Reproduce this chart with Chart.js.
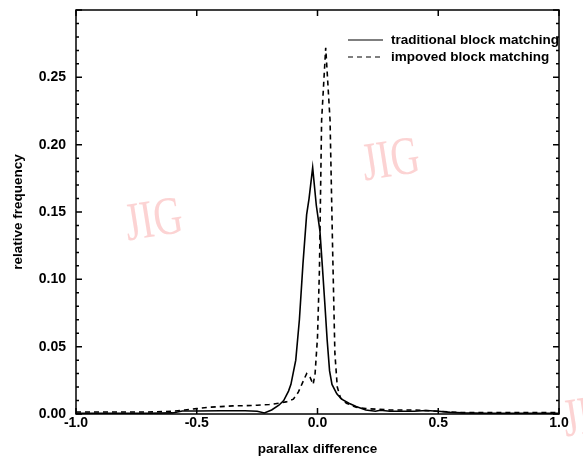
<!DOCTYPE html>
<html>
<head>
<meta charset="utf-8">
<script src="https://cdn.jsdelivr.net/npm/chart.js@4/dist/chart.umd.min.js"></script>
<style>
  body { margin: 0; background: #fff; }
  #wrap { width: 583px; height: 457px; }
</style>
</head>
<body>
<div id="wrap"><canvas id="histChart" width="583" height="457"></canvas></div>
<script>
// parallax difference histogram, two matching methods
const xTickValues = [-1.0, -0.5, 0.0, 0.5, 1.0];
const yTickValues = [0.00, 0.05, 0.10, 0.15, 0.20, 0.25];

const tradX = [-1.0, -0.9, -0.8, -0.7, -0.6, -0.56, -0.5, -0.4, -0.3, -0.25, -0.22, -0.19, -0.16, -0.14,
  -0.12, -0.11, -0.09, -0.075, -0.06, -0.045, -0.035, -0.02, -0.005, 0.01, 0.02, 0.03, 0.04, 0.05, 0.06,
  0.08, 0.10, 0.13, 0.16, 0.20, 0.24, 0.26, 0.30, 0.40, 0.45, 0.50, 0.55, 0.60, 0.70, 0.80, 0.90, 1.0];
const tradY = [0.0006, 0.0006, 0.0006, 0.0006, 0.0008, 0.0022, 0.0022, 0.0024, 0.0024, 0.002, 0.0008, 0.003, 0.0065, 0.010,
  0.017, 0.022, 0.040, 0.070, 0.112, 0.148, 0.160, 0.183, 0.155, 0.136, 0.110, 0.083, 0.055, 0.032, 0.022,
  0.015, 0.011, 0.008, 0.0055, 0.003, 0.002, 0.0028, 0.002, 0.002, 0.0026, 0.002, 0.0012, 0.0008, 0.0006, 0.0005, 0.0005, 0.0005];

const impX = [-1.0, -0.9, -0.8, -0.7, -0.6, -0.55, -0.5, -0.45, -0.4, -0.35, -0.3, -0.25, -0.2, -0.16, -0.13,
  -0.1, -0.08, -0.06, -0.045, -0.03, -0.018, -0.01, 0.0, 0.008, 0.017, 0.034, 0.052, 0.063, 0.072, 0.082,
  0.095, 0.12, 0.16, 0.20, 0.30, 0.40, 0.50, 0.60, 0.80, 1.0];
const impY = [0.0015, 0.0015, 0.0015, 0.0015, 0.002, 0.003, 0.004, 0.005, 0.0055, 0.006, 0.0062, 0.0065, 0.007, 0.008, 0.009,
  0.011, 0.016, 0.024, 0.030, 0.027, 0.022, 0.030, 0.057, 0.107, 0.218, 0.272, 0.218, 0.119, 0.045, 0.020,
  0.012, 0.008, 0.005, 0.004, 0.003, 0.003, 0.002, 0.001, 0.001, 0.001];

const seriesNames = ["traditional block matching", "impoved block matching"];

const tickFont = { family: "'Liberation Sans', Arial, sans-serif", size: 14, weight: "bold" };
const titleFont = { family: "'Liberation Sans', Arial, sans-serif", size: 13.5, weight: "bold" };

// frame with inward ticks on all four sides
const framePlugin = {
  id: "frame",
  afterDatasetsDraw(chart) {
    const { ctx, chartArea: { left, right, top, bottom }, scales: { x, y } } = chart;
    ctx.save();
    ctx.strokeStyle = "#000";
    ctx.lineWidth = 1.5;
    ctx.strokeRect(left, top, right - left, bottom - top);
    ctx.beginPath();
    for (let k = 0; k <= 30; k++) {
      const py = y.getPixelForValue(k / 100);
      const len = k % 5 === 0 ? 6 : 3;
      ctx.moveTo(left, py); ctx.lineTo(left + len, py);
      ctx.moveTo(right, py); ctx.lineTo(right - len, py);
    }
    xTickValues.forEach(v => {
      const px = x.getPixelForValue(v);
      ctx.moveTo(px, bottom); ctx.lineTo(px, bottom - 6);
      ctx.moveTo(px, top); ctx.lineTo(px, top + 6);
    });
    ctx.stroke();
    ctx.restore();
  }
};

// legend drawn inside the plot, upper right
const innerLegend = {
  id: "innerLegend",
  afterDraw(chart) {
    const { ctx } = chart;
    ctx.save();
    ctx.font = "bold 13.5px 'Liberation Sans', Arial, sans-serif";
    ctx.textBaseline = "middle";
    ctx.fillStyle = "#000";
    chart.data.datasets.forEach((ds, i) => {
      const ly = 40 + i * 17;
      ctx.beginPath();
      ctx.setLineDash(ds.borderDash || []);
      ctx.lineWidth = 1.2;
      ctx.strokeStyle = "#000";
      ctx.moveTo(348, ly);
      ctx.lineTo(383, ly);
      ctx.stroke();
      ctx.setLineDash([]);
      ctx.fillText(ds.label, 391, ly);
    });
    ctx.restore();
  }
};

// journal watermark
const watermark = {
  id: "watermark",
  beforeDatasetsDraw(chart) {
    const { ctx } = chart;
    const spots = [[154, 222], [391, 162], [592, 418]];
    ctx.save();
    ctx.fillStyle = "rgba(250, 175, 175, 0.55)";
    ctx.font = "54px 'Liberation Serif', 'DejaVu Serif', serif";
    ctx.textAlign = "center";
    ctx.textBaseline = "middle";
    spots.forEach(([cx, cy]) => {
      ctx.save();
      ctx.translate(cx, cy);
      ctx.rotate(-9 * Math.PI / 180);
      ctx.scale(0.74, 1);
      ctx.fillText("JIG", 0, 0);
      ctx.restore();
    });
    ctx.restore();
  }
};

const ctx = document.getElementById("histChart").getContext("2d");
const histChart = new Chart(ctx, {
  type: "line",
  data: {
    datasets: [
      {
        label: seriesNames[0],
        data: tradX.map((v, i) => ({ x: v, y: tradY[i] })),
        borderColor: "#000",
        borderWidth: 1.6,
        pointRadius: 0,
        fill: false,
        tension: 0,
      },
      {
        label: seriesNames[1],
        data: impX.map((v, i) => ({ x: v, y: impY[i] })),
        borderColor: "#000",
        borderWidth: 1.6,
        borderDash: [5, 4],
        pointRadius: 0,
        fill: false,
        tension: 0,
      },
    ],
  },
  options: {
    responsive: false,
    animation: false,
    layout: { padding: { top: 10, right: 24, left: 0, bottom: 0 } },
    scales: {
      x: {
        type: "linear",
        min: -1,
        max: 1,
        afterBuildTicks: (scale) => { scale.ticks = xTickValues.map(v => ({ value: v })); },
        afterFit: (scale) => {
          scale.height = 43;
          scale.paddingLeft = 0;
          scale.paddingRight = 0;
        },
        grid: { display: false, drawTicks: false },
        border: { display: false },
        ticks: {
          padding: 1,
          color: "#000",
          font: tickFont,
          maxRotation: 0,
          callback: (v) => v.toFixed(1),
        },
        title: {
          display: true,
          text: "parallax difference",
          color: "#000",
          font: titleFont,
          padding: { top: 0, bottom: 0 },
        },
      },
      y: {
        min: 0,
        max: 0.3,
        afterBuildTicks: (scale) => { scale.ticks = yTickValues.map(v => ({ value: v })); },
        afterFit: (scale) => {
          scale.width = 76;
          scale.paddingTop = 0;
          scale.paddingBottom = 0;
        },
        grid: { display: false, drawTicks: false },
        border: { display: false },
        ticks: {
          padding: 10,
          color: "#000",
          font: tickFont,
          callback: (v) => v.toFixed(2),
        },
        title: {
          display: true,
          text: "relative frequency",
          color: "#000",
          font: titleFont,
          padding: { top: 10, bottom: 0 },
        },
      },
    },
    plugins: {
      legend: { display: false },
      tooltip: { enabled: false },
    },
  },
  plugins: [framePlugin, innerLegend, watermark],
});
</script>
</body>
</html>
